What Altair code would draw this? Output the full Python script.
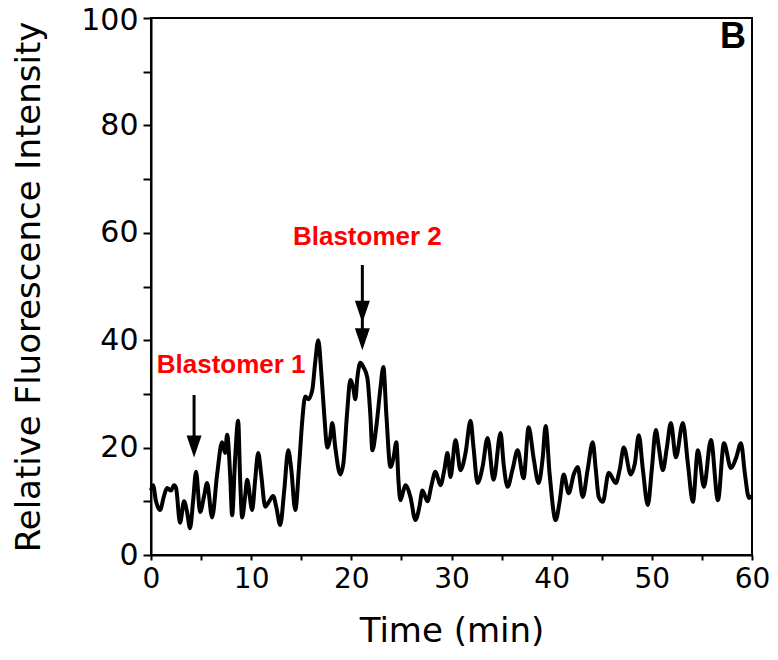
import altair as alt
import pandas as pd

# Trace
t = [0.0, 0.2, 0.5, 0.9, 1.3, 1.6, 2.0, 2.3, 2.5, 2.9, 3.3, 3.6, 3.9, 4.2, 4.5, 4.9, 5.3, 5.6, 6.1, 6.6,
     7.1, 7.4, 7.6, 7.9, 8.1, 8.4, 8.7, 8.9, 9.1, 9.4, 9.6, 10.1, 10.4, 10.7, 11.0, 11.4, 11.8, 12.2, 12.5, 12.9,
     13.3, 13.7, 14.0, 14.4, 14.8, 15.1, 15.4, 15.7, 16.1, 16.4, 16.7, 17.0, 17.3, 17.6, 17.9, 18.1, 18.4, 18.9, 19.2, 19.6,
     19.9, 20.2, 20.4, 20.6, 20.9, 21.2, 21.6, 21.9, 22.1, 22.5, 22.9, 23.2, 23.5, 23.9, 24.2, 24.5, 24.7, 24.9, 25.2, 25.4,
     25.9, 26.4, 26.8, 27.1, 27.6, 28.0, 28.4, 28.9, 29.3, 29.6, 29.9, 30.4, 30.9, 31.4, 31.9, 32.2, 32.6, 33.1, 33.6, 34.2,
     34.9, 35.2, 35.6, 36.1, 36.6, 37.2, 37.7, 38.2, 38.7, 39.1, 39.4, 39.8, 40.4, 40.8, 41.2, 41.7, 42.2, 42.6, 43.1, 43.6,
     44.1, 44.4, 44.7, 45.1, 45.7, 46.4, 46.8, 47.2, 47.9, 48.3, 48.7, 49.1, 49.6, 50.0, 50.4, 50.7, 51.1, 51.5, 51.9, 52.4,
     53.1, 53.6, 54.1, 54.6, 55.2, 55.9, 56.6, 57.2, 57.9, 58.4, 58.9, 59.3, 59.7, 60.0]
intensity = [12, 13, 10, 8.4, 11, 12.5, 12, 13, 12.5, 6, 10, 8, 5, 10, 15.5, 8, 11, 13.4, 7, 15,
             21, 19, 22.4, 15, 7.4, 18, 25, 14, 7, 11, 14, 8.4, 14, 19, 15, 9, 10, 11, 9, 5.6,
             12, 19.5, 16, 8.4, 17, 25, 29.5, 29, 30.7, 36, 40, 34, 26, 20, 22, 24.6, 20, 15, 17, 27,
             32.6, 31, 29, 33, 35.8, 35, 33, 26, 19.5, 24, 31, 35, 26, 16.4, 18, 21, 14, 10.2, 12, 13,
             10.8, 6.5, 9, 12, 10, 13, 15.5, 13, 16, 19, 14.5, 21.4, 15.8, 19, 25, 20, 13.4, 16.4, 21.8, 14,
             22.7, 17, 12.7, 16, 19.5, 14.3, 23.8, 18, 13.4, 18, 24, 15, 6.5, 10, 15, 11.5, 15, 16.4, 10.8, 16,
             21, 16, 10.8, 9.9, 15.3, 13.4, 16, 20, 15, 17, 22.3, 16, 9.3, 16, 23.3, 20, 15.8, 20, 24.6, 18.2,
             24.6, 17, 9.9, 19.5, 12.7, 21.4, 10.2, 20.8, 16.2, 18, 20.8, 15, 10.6, 11]

# Annotations
label_text = ["Blastomer 1", "Blastomer 2"]
label_t = [8.0, 21.6]
label_y = [35.4, 59.2]

arrow_t = [4.3, 21.1]
arrow_top = [29.8, 54.0]
arrow_bottom = [20.5, 40.5]

head_t = [4.3, 21.1, 21.1]
head_y = [20.2, 45.3, 40.2]

panel_text = ["B"]
panel_t = [58.1]
panel_y = [96.4]

trace = pd.DataFrame({"t": t, "v": intensity})
labels = pd.DataFrame({"t": label_t, "v": label_y, "txt": label_text})
shafts = pd.DataFrame({"t": arrow_t, "v": arrow_top, "v2": arrow_bottom})
heads = pd.DataFrame({"t": head_t, "v": head_y})
panel = pd.DataFrame({"t": panel_t, "v": panel_y, "txt": panel_text})

xscale = alt.Scale(domain=[0, 60], nice=False)
yscale = alt.Scale(domain=[0, 100], nice=False)

xaxis = alt.Axis(title="Time (min)", values=list(range(0, 61, 5)),
                 labelExpr="datum.value % 10 == 0 ? datum.label : ''",
                 tickSize=5, labelPadding=5, titlePadding=21, labelFlush=False,
                 labelFontSize=28)
yaxis = alt.Axis(title="Relative Fluorescence Intensity", values=list(range(0, 101, 10)),
                 labelExpr="datum.value % 20 == 0 ? datum.label : ''",
                 labelOffset={"condition": {"test": "datum.value == 100", "value": 2}, "value": 0},
                 tickSize=8, labelPadding=5, titlePadding=34, labelFontSize=30)

line = alt.Chart(trace).mark_line(color="black", strokeWidth=4, strokeJoin="round",
                                  interpolate="monotone").encode(
    x=alt.X("t:Q", scale=xscale, axis=xaxis),
    y=alt.Y("v:Q", scale=yscale, axis=yaxis),
)

text = alt.Chart(labels).mark_text(
    font="Liberation Sans", fontWeight="bold", fontSize=26,
    color="#ff0000", baseline="middle", align="center"
).encode(x=alt.X("t:Q", scale=xscale), y=alt.Y("v:Q", scale=yscale), text="txt:N")

rules = alt.Chart(shafts).mark_rule(color="black", strokeWidth=3).encode(
    x=alt.X("t:Q", scale=xscale), y=alt.Y("v:Q", scale=yscale), y2="v2:Q"
)

arrowheads = alt.Chart(heads).mark_point(
    shape="M-0.68,-1 L0.68,-1 L0,1 Z", filled=True, color="black", opacity=1, size=484
).encode(x=alt.X("t:Q", scale=xscale), y=alt.Y("v:Q", scale=yscale))

ptext = alt.Chart(panel).mark_text(
    font="Liberation Sans", fontWeight="bold", fontSize=36, color="black",
    baseline="middle", align="center"
).encode(x=alt.X("t:Q", scale=xscale), y=alt.Y("v:Q", scale=yscale), text="txt:N")

chart = alt.layer(line, rules, arrowheads, text, ptext).properties(
    width=601, height=537,
    autosize=alt.AutoSizeParams(type="none"),
    padding={"left": 143, "top": 10, "right": 18, "bottom": 97},
).configure_view(stroke="black", strokeWidth=2).configure_axis(
    grid=False, domainColor="black", domainWidth=2, tickColor="black", tickWidth=2,
    labelColor="black", titleColor="black",
    labelFont="DejaVu Sans", titleFont="DejaVu Sans", titleFontSize=34,
    titleFontWeight="normal",
)

chart.save("out.html", embed_options={"renderer": "svg", "actions": False})
